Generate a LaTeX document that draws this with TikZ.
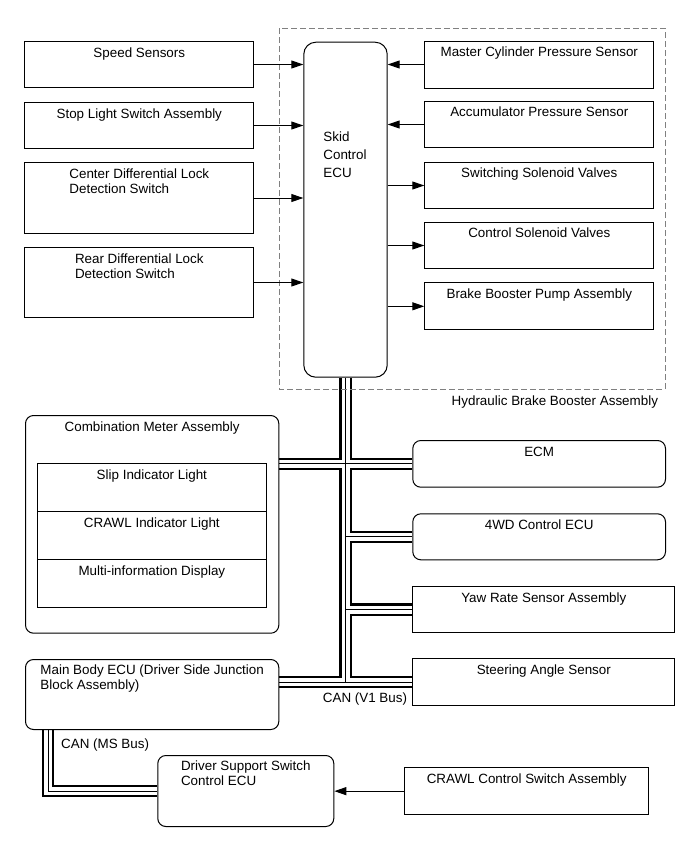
\documentclass[tikz,border=0pt]{standalone}
\usepackage{fontspec}
\setmainfont{Liberation Sans}
\usetikzlibrary{arrows.meta,backgrounds}
\newcommand\lblfont{\fontsize{13.4pt}{15pt}\selectfont}
\tikzset{
  box/.style={draw, line width=1pt, fill=white, inner sep=0pt, anchor=north west},
  rbox/.style={box, rounded corners=8pt},
  lbl/.style={font=\lblfont, inner sep=0pt, anchor=north, align=left},
  sig/.style={line width=1pt, -{Triangle[length=12pt,width=8pt]}},
  busA/.style={line width=12.4pt, black},
  busB/.style={line width=8pt, white},
  busC/.style={line width=0.9pt, black},
  grp/.style={draw=gray, line width=1pt, dash pattern=on 6pt off 3pt},
}
\begin{document}
\begin{tikzpicture}[x=1pt,y=-1pt]
\useasboundingbox (0,0) rectangle (691,854);
% group
\draw[grp] (279.3,28.3) rectangle (665,389.3);
% left inputs
\node[box, minimum width=229pt, minimum height=46pt] (speed) at (24.3,41) {};
\node[box, minimum width=229pt, minimum height=46pt] (stop) at (24.3,102) {};
\node[box, minimum width=229pt, minimum height=71pt] (cdiff) at (24.3,162) {};
\node[box, minimum width=229pt, minimum height=70pt] (rdiff) at (24.3,247) {};
% ECU
\node[box, rounded corners=12pt, minimum width=83.4pt, minimum height=335pt] (ecu) at (303.3,41.7) {};
% right side
\node[box, minimum width=229pt, minimum height=47pt] (master) at (424.3,40.5) {};
\node[box, minimum width=229pt, minimum height=46.6pt] (accum) at (424.3,100.7) {};
\node[box, minimum width=229pt, minimum height=46.6pt] (switch) at (424.3,161.7) {};
\node[box, minimum width=229pt, minimum height=46.6pt] (control) at (424.3,221.7) {};
\node[box, minimum width=229pt, minimum height=47pt] (booster) at (424.3,282.3) {};
% combination meter
\node[rbox, minimum width=253.3pt, minimum height=217.7pt] (comb) at (25,415) {};
\node[box, minimum width=229.3pt, minimum height=47.7pt] (slip) at (36.7,463.3) {};
\node[box, minimum width=229.3pt, minimum height=48.3pt] (crawlind) at (36.7,511) {};
\node[box, minimum width=229.3pt, minimum height=48pt] (multi) at (36.7,559.3) {};
% CAN nodes on the right
\node[rbox, minimum width=252.7pt, minimum height=46.7pt] (ecm) at (412.3,440) {};
\node[rbox, minimum width=252.7pt, minimum height=46pt] (fwd) at (412.3,513.3) {};
\node[box, minimum width=262pt, minimum height=46.6pt] (yaw) at (412.3,585.7) {};
\node[box, minimum width=262pt, minimum height=46.3pt] (steer) at (412.3,658.3) {};
% lower nodes
\node[rbox, minimum width=253.3pt, minimum height=70pt] (mainbody) at (25,659) {};
\node[rbox, minimum width=176pt, minimum height=71pt] (dss) at (157.3,755) {};
\node[box, minimum width=244.3pt, minimum height=46.7pt] (crawlsw) at (404,767.3) {};

% texts
\node[lbl] (speed-t) at ([yshift=-6.3pt]speed.north) {Speed Sensors};
\node[lbl] (stop-t) at ([yshift=-6.3pt]stop.north) {Stop Light Switch Assembly};
\node[lbl] (cdiff-t) at ([yshift=-6.3pt]cdiff.north) {Center Differential Lock\\Detection Switch};
\node[lbl] (rdiff-t) at ([yshift=-6.3pt]rdiff.north) {Rear Differential Lock\\Detection Switch};
\node[lbl, font=\fontsize{13.4pt}{18pt}\selectfont] (ecu-t) at (345,132) {Skid\\Control\\ECU};
\node[lbl] (master-t) at ([yshift=-6.3pt]master.north) {Master Cylinder Pressure Sensor};
\node[lbl] (accum-t) at ([yshift=-6.3pt]accum.north) {Accumulator Pressure Sensor};
\node[lbl] (switch-t) at ([yshift=-5.5pt]switch.north) {Switching Solenoid Valves};
\node[lbl] (control-t) at ([yshift=-6.3pt]control.north) {Control Solenoid Valves};
\node[lbl] (booster-t) at ([yshift=-6.3pt]booster.north) {Brake Booster Pump Assembly};
\node[lbl] (comb-t) at ([yshift=-6.8pt]comb.north) {Combination Meter Assembly};
\node[lbl] (slip-t) at ([yshift=-6.5pt]slip.north) {Slip Indicator Light};
\node[lbl] (crawlind-t) at ([yshift=-6.5pt]crawlind.north) {CRAWL Indicator Light};
\node[lbl] (multi-t) at ([yshift=-6.5pt]multi.north) {Multi-information Display};
\node[lbl] (ecm-t) at ([yshift=-6.5pt]ecm.north) {ECM};
\node[lbl] (fwd-t) at ([yshift=-6.5pt]fwd.north) {4WD Control ECU};
\node[lbl] (yaw-t) at ([yshift=-7pt]yaw.north) {Yaw Rate Sensor Assembly};
\node[lbl] (steer-t) at ([yshift=-6.5pt]steer.north) {Steering Angle Sensor};
\node[lbl] (mainbody-t) at ([yshift=-6pt]mainbody.north) {Main Body ECU (Driver Side Junction\\Block Assembly)};
\node[lbl] (dss-t) at ([yshift=-5.7pt]dss.north) {Driver Support Switch\\Control ECU};
\node[lbl] (crawlsw-t) at ([yshift=-6pt]crawlsw.north) {CRAWL Control Switch Assembly};
\node[lbl, anchor=base west] (hbba) at (451.5,405.5) {Hydraulic Brake Booster Assembly};
\node[lbl, anchor=base west] (v1) at (322.7,702.6) {CAN (V1 Bus)};
\node[lbl, anchor=base west] (ms) at (61,748.3) {CAN (MS Bus)};

% signal arrows
\draw[sig] (speed.east) -- (speed.east -| ecu.west);
\draw[sig] (stop.east) -- (stop.east -| ecu.west);
\draw[sig] (cdiff.east) -- (cdiff.east -| ecu.west);
\draw[sig] (rdiff.east) -- (rdiff.east -| ecu.west);
\draw[sig] (master.west) -- (master.west -| ecu.east);
\draw[sig] (accum.west) -- (accum.west -| ecu.east);
\draw[sig] (switch.west -| ecu.east) -- (switch.west);
\draw[sig] (control.west -| ecu.east) -- (control.west);
\draw[sig] (booster.west -| ecu.east) -- (booster.west);
\draw[sig] (crawlsw.west) -- (crawlsw.west -| dss.east);

% CAN bus
\begin{scope}[on background layer]
\foreach \s in {busA,busB,busC}{
  \draw[\s] (ecu.south) -- (ecu.south |- steer.west);
  \draw[\s] (ecm.west -| comb.east) -- (ecm.west);
  \draw[\s] (fwd.west -| ecu.south) -- (fwd.west);
  \draw[\s] (yaw.west -| ecu.south) -- (yaw.west);
  \draw[\s] (steer.west -| mainbody.east) -- (steer.west);
  \draw[\s] ([xshift=23pt]mainbody.south west) -- ([xshift=23pt]mainbody.south west |- dss.west) -- (dss.west);
}
\end{scope}
\end{tikzpicture}
\end{document}
